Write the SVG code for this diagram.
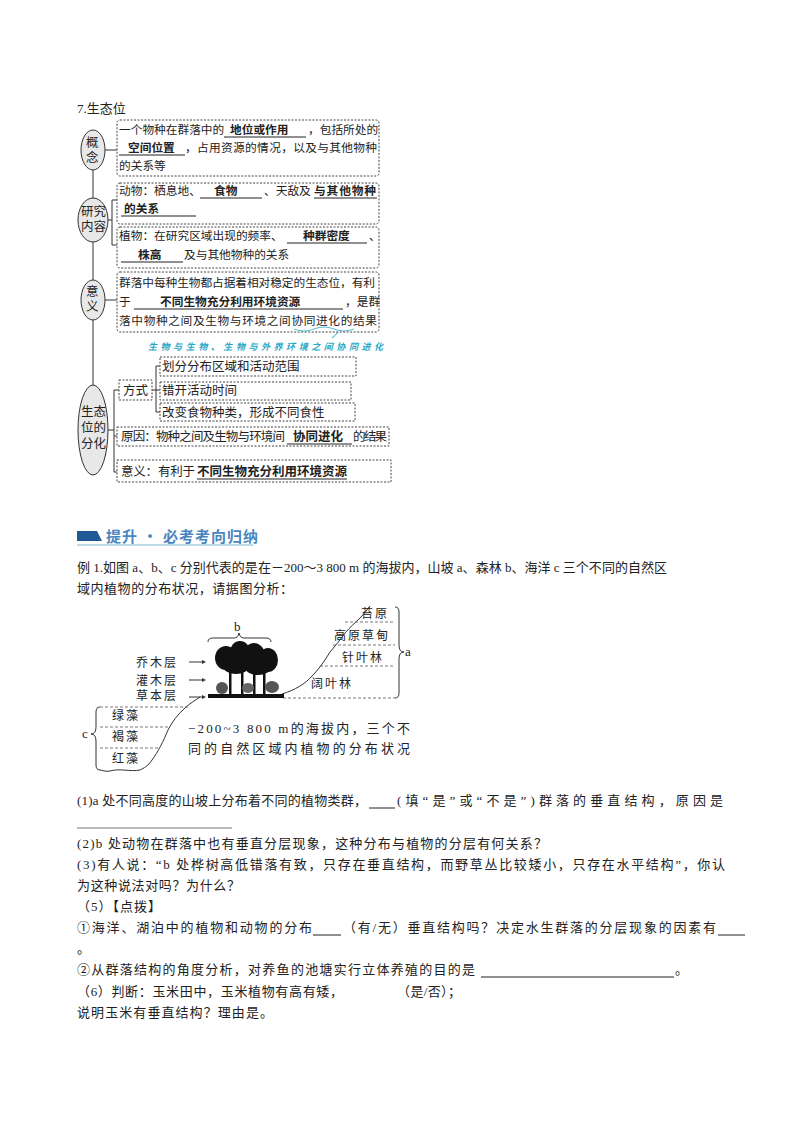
<svg xmlns="http://www.w3.org/2000/svg" width="800" height="1132" viewBox="0 0 800 1132">
<style>
text{font-family:"Liberation Serif","Noto Sans CJK SC",serif;font-size:11.7px;fill:#222}
.b{font-weight:bold}
.box{fill:#fff;stroke:#444;stroke-width:1;stroke-dasharray:2,1.5}
.ov{fill:#e8e8e8;stroke:#333;stroke-width:1}
.ln{stroke:#333;stroke-width:1;fill:none}
.u{stroke:#222;stroke-width:1}
.q{font-size:13px}
.m{font-size:12.5px}
.d{stroke:#555;stroke-width:0.8;stroke-dasharray:3,2}
.lb{font-size:12px;letter-spacing:2px}
</style>
<rect width="800" height="1132" fill="#fff"/>
<text x="77" y="113" class="q">7.生态位</text>
<g id="connectors">
<line class="ln" x1="93" y1="135" x2="93" y2="475"/>
<line class="ln" x1="105" y1="150" x2="117" y2="150"/>
<path class="ln" d="M107 220 H112 M112 200 V245 M112 200 H117 M112 245 H117"/>
<line class="ln" x1="105" y1="300" x2="117" y2="300"/>
<path class="ln" d="M108 430 H114 M114 390 V472 M114 390 H119 M114 436 H117 M114 472 H117"/>
<path class="ln" d="M152 390 H160 M156 366 V412 M156 366 H160 M156 412 H160"/>
<path d="M338 332 q-3 4 -6 6" stroke="#2aa8c8" fill="none" stroke-width="1"/>
</g>
<g id="n-gainian"><ellipse class="ov" cx="93" cy="150" rx="12" ry="20"/><text x="86" y="147" class="m">概</text><text x="86" y="162" class="m">念</text></g>
<g id="n-yanjiu"><ellipse class="ov" cx="93" cy="220" rx="15" ry="22"/><text x="81" y="216" class="m">研究</text><text x="81" y="231" class="m">内容</text></g>
<g id="n-yiyi"><ellipse class="ov" cx="93" cy="300" rx="12" ry="20"/><text x="86" y="296" class="m">意</text><text x="86" y="311" class="m">义</text></g>
<g id="n-fenhua"><ellipse class="ov" cx="93" cy="430" rx="15" ry="45"/><text x="81" y="416" class="m">生态</text><text x="81" y="432" class="m">位的</text><text x="81" y="448" class="m">分化</text></g>
<g id="b1"><rect class="box" x="117" y="120" width="262" height="56" rx="3"/>
<text x="119" y="134">一个物种在群落中的</text><text x="230" y="134" class="b">地位或作用</text><text x="308" y="134">，包括所处的</text>
<line class="u" x1="224" y1="137" x2="306" y2="137"/>
<text x="128" y="152" class="b">空间位置</text><line class="u" x1="119" y1="155" x2="185" y2="155"/>
<text x="185" y="152" textLength="192" lengthAdjust="spacing">，占用资源的情况，以及与其他物种</text>
<text x="119" y="170">的关系等</text></g>
<g id="b2"><rect class="box" x="117" y="183" width="262" height="41" rx="3"/>
<text x="119" y="195">动物：栖息地、</text><text x="214" y="195" class="b">食物</text><text x="264" y="195">、天敌及</text><text x="314" y="195" class="b" textLength="62">与其他物种</text>
<line class="u" x1="200" y1="198" x2="262" y2="198"/><line class="u" x1="314" y1="198" x2="377" y2="198"/>
<text x="124" y="213" class="b">的关系</text><line class="u" x1="121" y1="216" x2="196" y2="216"/></g>
<g id="b3"><rect class="box" x="117" y="227" width="262" height="41" rx="3"/>
<text x="119" y="240">植物：在研究区域出现的频率、</text><text x="303" y="240" class="b">种群密度</text><text x="369" y="240">、</text>
<line class="u" x1="287" y1="243" x2="367" y2="243"/>
<text x="138" y="259" class="b">株高</text><line class="u" x1="121" y1="262" x2="183" y2="262"/>
<text x="184" y="259">及与其他物种的关系</text></g>
<g id="b4"><rect class="box" x="117" y="272" width="262" height="60" rx="3"/>
<text x="119" y="287" textLength="256" lengthAdjust="spacing">群落中每种生物都占据着相对稳定的生态位，有利</text>
<text x="119" y="306">于</text><text x="160" y="306" class="b">不同生物充分利用环境资源</text>
<line class="u" x1="134" y1="309" x2="343" y2="309"/>
<text x="345" y="306">，是群</text>
<text x="119" y="325" textLength="258" lengthAdjust="spacing">落中物种之间及生物与环境之间协同进化的结果</text>
<path d="M294 329 q10 4 20 0 t20 0 t20 0" stroke="#2aa8c8" fill="none" stroke-width="0.8"/></g>
<text x="148" y="350" class="b" style="font-size:9px;font-style:italic;fill:#2aa8c8" textLength="235">生物与生物、生物与外界环境之间协同进化</text>
<g id="fs"><rect class="box" x="119" y="380" width="33" height="20"/><text x="123" y="395" class="m">方式</text></g>
<g id="s1"><rect class="box" x="160" y="357" width="196" height="19"/><text x="162" y="371" class="m">划分分布区域和活动范围</text></g>
<g id="s2"><rect class="box" x="160" y="382" width="191" height="18"/><text x="162" y="395" class="m">错开活动时间</text></g>
<g id="s3"><rect class="box" x="160" y="403" width="195" height="18"/><text x="162" y="417" class="m">改变食物种类，形成不同食性</text></g>
<g id="yy"><rect class="box" x="117" y="427" width="272" height="19"/><text x="121" y="441" class="m" textLength="164">原因：物种之间及生物与环境间</text><text x="293" y="441" class="b m">协同进化</text><text x="353" y="441" class="m" textLength="34">的结果</text>
<line class="u" x1="287" y1="444" x2="352" y2="444"/></g>
<g id="yi"><rect class="box" x="117" y="460" width="274" height="22"/><text x="121" y="476" class="m" textLength="74">意义：有利于</text><text x="197" y="476" class="b m" textLength="150">不同生物充分利用环境资源</text>
<line class="u" x1="197" y1="479" x2="347" y2="479"/></g>

<path d="M77 531 H97 L102 541 H77 Z" fill="#1e5a96"/>
<text x="106" y="542" class="b" textLength="152" style="font-size:15px;fill:#4a86c0;font-family:'Noto Sans CJK SC',sans-serif">提升 • 必考考向归纳</text>
<line x1="77" y1="545" x2="253" y2="545" stroke="#a8cfe0" stroke-width="1.5"/>
<text x="77" y="572" class="q" textLength="590" lengthAdjust="spacing">例 1.如图 a、b、c 分别代表的是在－200～3 800 m 的海拔内，山坡 a、森林 b、海洋 c 三个不同的自然区</text>
<text x="77" y="593" class="q" textLength="216" lengthAdjust="spacing">域内植物的分布状况，请据图分析：</text>

<g id="figure">
<path class="ln" d="M200 697 C196 700 190 703 185 708 C178 714 172 722 168 730 C163 742 158 752 152 760 C148 766 144 768 140 770 C130 772 120 768 110 771 C105 772 102 770 100 770"/>
<path class="ln" d="M282 694 C295 690 305 684 312 676 C320 668 325 660 330 652 C336 645 340 640 345 633 C350 627 356 622 360 618 C364 614 367 610 370 606"/>
<line class="d" x1="100" y1="707" x2="190" y2="707"/>
<line class="d" x1="100" y1="727" x2="170" y2="727"/>
<line class="d" x1="100" y1="748" x2="160" y2="748"/>
<line class="d" x1="283" y1="698" x2="395" y2="698"/>
<line class="d" x1="320" y1="666" x2="395" y2="666"/>
<line class="d" x1="333" y1="645" x2="395" y2="645"/>
<line class="d" x1="345" y1="622" x2="395" y2="622"/>
<path class="ln" d="M395 607 q4 0 4 5 V645 q0 7 5 7 q-5 0 -5 7 V693 q0 5 -4 5"/>
<text x="405" y="656" class="q">a</text>
<path class="ln" d="M100 707 q-4 0 -4 5 V727 q0 7 -5 7 q5 0 5 7 V765 q0 5 4 5"/>
<text x="82" y="738" class="q">c</text>
<path class="ln" d="M208 642 q0 -4 5 -4 H234 q4 0 5 -5 q1 5 5 5 H266 q5 0 5 4"/>
<text x="234" y="631" class="q">b</text>
<g fill="#111">
<ellipse cx="226" cy="658" rx="11" ry="12"/><ellipse cx="240" cy="652" rx="10" ry="11"/><ellipse cx="254" cy="656" rx="11" ry="13"/><ellipse cx="268" cy="660" rx="10" ry="12"/>
<ellipse cx="236" cy="666" rx="13" ry="8"/><ellipse cx="258" cy="667" rx="13" ry="8"/>
<rect x="229" y="668" width="2.5" height="28"/><rect x="241" y="664" width="2.5" height="32"/><rect x="253" y="666" width="2.5" height="30"/><rect x="263" y="668" width="2.5" height="28"/>
<ellipse cx="222" cy="688" rx="6" ry="6" fill="#555"/><ellipse cx="248" cy="688" rx="6" ry="5" fill="#666"/><ellipse cx="272" cy="687" rx="7" ry="6" fill="#555"/>
<rect x="208" y="694" width="76" height="4"/>
</g>
<text x="136" y="667" class="lb">乔木层</text><text x="136" y="685" class="lb">灌木层</text><text x="136" y="700" class="lb">草本层</text>
<path class="ln" d="M189 662 H203 M189 680 H203 M189 697 H203"/>
<path d="M206 662 l-4 -2 v4z M206 680 l-4 -2 v4z M206 697 l-4 -2 v4z" fill="#333"/>
<text x="361" y="618" class="lb">苔原</text>
<text x="334" y="640" class="lb">高原草甸</text>
<text x="342" y="662" class="lb">针叶林</text>
<text x="311" y="688" class="lb">阔叶林</text>
<text x="112" y="720" class="lb">绿藻</text><text x="112" y="741" class="lb">褐藻</text><text x="112" y="763" class="lb">红藻</text>
<text x="188" y="733" class="q" textLength="222" lengthAdjust="spacing">−200~3 800 m的海拔内，三个不</text>
<text x="188" y="753" class="q" textLength="222" lengthAdjust="spacing">同的自然区域内植物的分布状况</text>
</g>

<text x="77" y="805" class="q" textLength="290" lengthAdjust="spacing">(1)a 处不同高度的山坡上分布着不同的植物类群，</text>
<line class="u" x1="369" y1="808" x2="395" y2="808"/>
<text x="397" y="805" class="q" textLength="326" lengthAdjust="spacing">(填“是”或“不是”)群落的垂直结构，原因是</text>
<line x1="77" y1="828" x2="232" y2="828" stroke="#555" stroke-width="0.8"/>
<text x="77" y="848" class="q" textLength="470" lengthAdjust="spacing">(2)b 处动物在群落中也有垂直分层现象，这种分布与植物的分层有何关系？</text>
<text x="77" y="869" class="q" textLength="648" lengthAdjust="spacing">(3)有人说：“b 处桦树高低错落有致，只存在垂直结构，而野草丛比较矮小，只存在水平结构”，你认</text>
<text x="77" y="890" class="q" textLength="163" lengthAdjust="spacing">为这种说法对吗？为什么？</text>
<text x="77" y="911" class="q" textLength="84" lengthAdjust="spacing">（5）【点拨】</text>
<text x="77" y="932" class="q" textLength="235" lengthAdjust="spacing">①海洋、湖泊中的植物和动物的分布</text>
<line class="u" x1="313" y1="935" x2="341" y2="935"/>
<text x="343" y="932" class="q" textLength="373" lengthAdjust="spacing">（有/无）垂直结构吗？决定水生群落的分层现象的因素有</text>
<line class="u" x1="718" y1="935" x2="745" y2="935"/>
<text x="77" y="953" class="q">。</text>
<text x="77" y="974" class="q" textLength="398" lengthAdjust="spacing">②从群落结构的角度分析，对养鱼的池塘实行立体养殖的目的是</text>
<line class="u" x1="481" y1="977" x2="674" y2="977"/><text x="675" y="974" class="q">。</text>
<text x="77" y="996" class="q" textLength="266" lengthAdjust="spacing">（6）判断：玉米田中，玉米植物有高有矮，</text>
<text x="397" y="996" class="q" textLength="64" lengthAdjust="spacing">（是/否）；</text>
<text x="77" y="1017" class="q" textLength="196" lengthAdjust="spacing">说明玉米有垂直结构？理由是。</text>
</svg>
